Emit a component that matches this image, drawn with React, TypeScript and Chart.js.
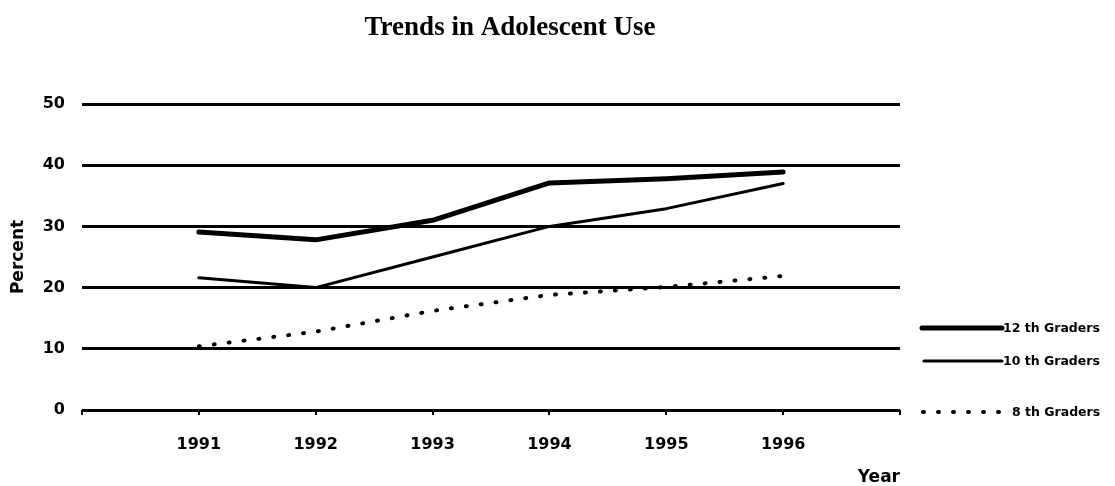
import React, { useEffect, useRef } from "react";
import { Chart, registerables } from "chart.js";

Chart.register(...registerables);

const chartTitle = "Trends in Adolescent Use";
const years = [1991, 1992, 1993, 1994, 1995, 1996];
const seriesNames = ["12 th Graders", "10 th Graders", "8 th Graders"];
const grade12 = [29.1, 27.8, 31.0, 37.1, 37.8, 38.9];
const grade10 = [21.6, 20.0, 25.0, 30.0, 32.9, 37.0];
const grade8 = [10.4, 12.8, 16.2, 18.8, 20.1, 21.9];
const yTicks = [0, 10, 20, 30, 40, 50];
const xAxisTitle = "Year";
const yAxisTitle = "Percent";

const FONT = "'DejaVu Sans', sans-serif";

const toPoints = (vals: number[]) => vals.map((v, i) => ({ x: years[i], y: v }));

const titlePlugin = {
  id: "customTitle",
  afterDraw(chart: any) {
    const ctx = chart.ctx;
    ctx.save();
    ctx.font = "bold 27px 'Liberation Serif', serif";
    ctx.fillStyle = "#000";
    ctx.textAlign = "center";
    ctx.textBaseline = "alphabetic";
    ctx.fillText(chartTitle, 510, 35);
    ctx.restore();
  },
};

const legendPlugin = {
  id: "customLegend",
  afterDraw(chart: any) {
    const ctx = chart.ctx;
    const rows = [
      { y: 328, x0: 922, x1: 1002, tx: 1003 },
      { y: 361, x0: 924, x1: 1002, tx: 1003 },
      { y: 412, x0: 923, x1: 1002, tx: 1012 },
    ];
    chart.data.datasets.forEach((ds: any, i: number) => {
      const r = rows[i];
      ctx.save();
      ctx.strokeStyle = ds.borderColor;
      ctx.lineWidth = ds.borderWidth;
      ctx.lineCap = ds.borderCapStyle || "butt";
      ctx.setLineDash(ds.borderDash || []);
      ctx.beginPath();
      ctx.moveTo(r.x0, r.y);
      ctx.lineTo(r.x1, r.y);
      ctx.stroke();
      ctx.setLineDash([]);
      ctx.font = `bold 12.5px ${FONT}`;
      ctx.fillStyle = "#000";
      ctx.textAlign = "left";
      ctx.textBaseline = "middle";
      ctx.fillText(ds.label, r.tx, r.y + 1);
      ctx.restore();
    });
  },
};

export default function App() {
  const canvasRef = useRef<HTMLCanvasElement | null>(null);

  useEffect(() => {
    if (!canvasRef.current) return;
    const chart = new Chart(canvasRef.current, {
      type: "line",
      data: {
        datasets: [
          {
            label: seriesNames[0],
            data: toPoints(grade12),
            borderColor: "#000",
            borderWidth: 5,
            borderCapStyle: "round",
            borderJoinStyle: "round",
            pointRadius: 0,
            tension: 0,
          },
          {
            label: seriesNames[1],
            data: toPoints(grade10),
            borderColor: "#000",
            borderWidth: 3,
            borderCapStyle: "round",
            borderJoinStyle: "round",
            pointRadius: 0,
            tension: 0,
          },
          {
            label: seriesNames[2],
            data: toPoints(grade8),
            borderColor: "#000",
            borderWidth: 4,
            borderDash: [1, 14],
            borderCapStyle: "round",
            pointRadius: 0,
            tension: 0,
          },
        ],
      },
      options: {
        animation: false,
        responsive: false,
        devicePixelRatio: 1,
        layout: { padding: { top: 104, left: 4, right: 215, bottom: 0 } },
        plugins: {
          legend: { display: false },
          title: { display: false },
          tooltip: { enabled: false },
        },
        scales: {
          x: {
            type: "linear",
            min: 1990,
            max: 1997,
            afterFit: (s: any) => {
              s.height = 76;
            },
            afterBuildTicks: (s: any) => {
              const t = [];
              for (let v = 1990; v <= 1997; v++) t.push({ value: v });
              s.ticks = t;
            },
            ticks: {
              color: "#000",
              font: { family: FONT, size: 16, weight: "bold" },
              padding: 20,
              maxRotation: 0,
              autoSkip: false,
              callback: (v: any) => (v === 1990 || v === 1997 ? "" : String(v)),
            },
            grid: {
              drawOnChartArea: false,
              drawTicks: true,
              tickLength: 5,
              color: "#000",
              lineWidth: 2,
            },
            border: { display: false },
            title: {
              display: true,
              text: xAxisTitle,
              align: "end",
              color: "#000",
              font: { family: FONT, size: 17, weight: "bold", lineHeight: 1 },
              padding: { top: 0, bottom: 0 },
            },
          },
          y: {
            min: 0,
            max: 50,
            afterFit: (s: any) => {
              s.width = 78;
            },
            afterBuildTicks: (s: any) => {
              s.ticks = yTicks.map((v) => ({ value: v }));
            },
            ticks: {
              color: "#000",
              font: { family: FONT, size: 16, weight: "bold" },
              padding: 17,
            },
            grid: {
              drawTicks: false,
              color: "#000",
              lineWidth: 3,
            },
            border: { display: false },
            title: {
              display: true,
              text: yAxisTitle,
              color: "#000",
              font: { family: FONT, size: 17, weight: "bold" },
              padding: { top: 4, bottom: 0 },
            },
          },
        },
      },
      plugins: [titlePlugin, legendPlugin],
    } as any);
    return () => chart.destroy();
  }, []);

  return (
    <div style={{ position: "fixed", left: 0, top: 0, width: 1115, height: 486, background: "#fff" }}>
      <canvas ref={canvasRef} width={1115} height={486} style={{ display: "block" }} />
    </div>
  );
}
